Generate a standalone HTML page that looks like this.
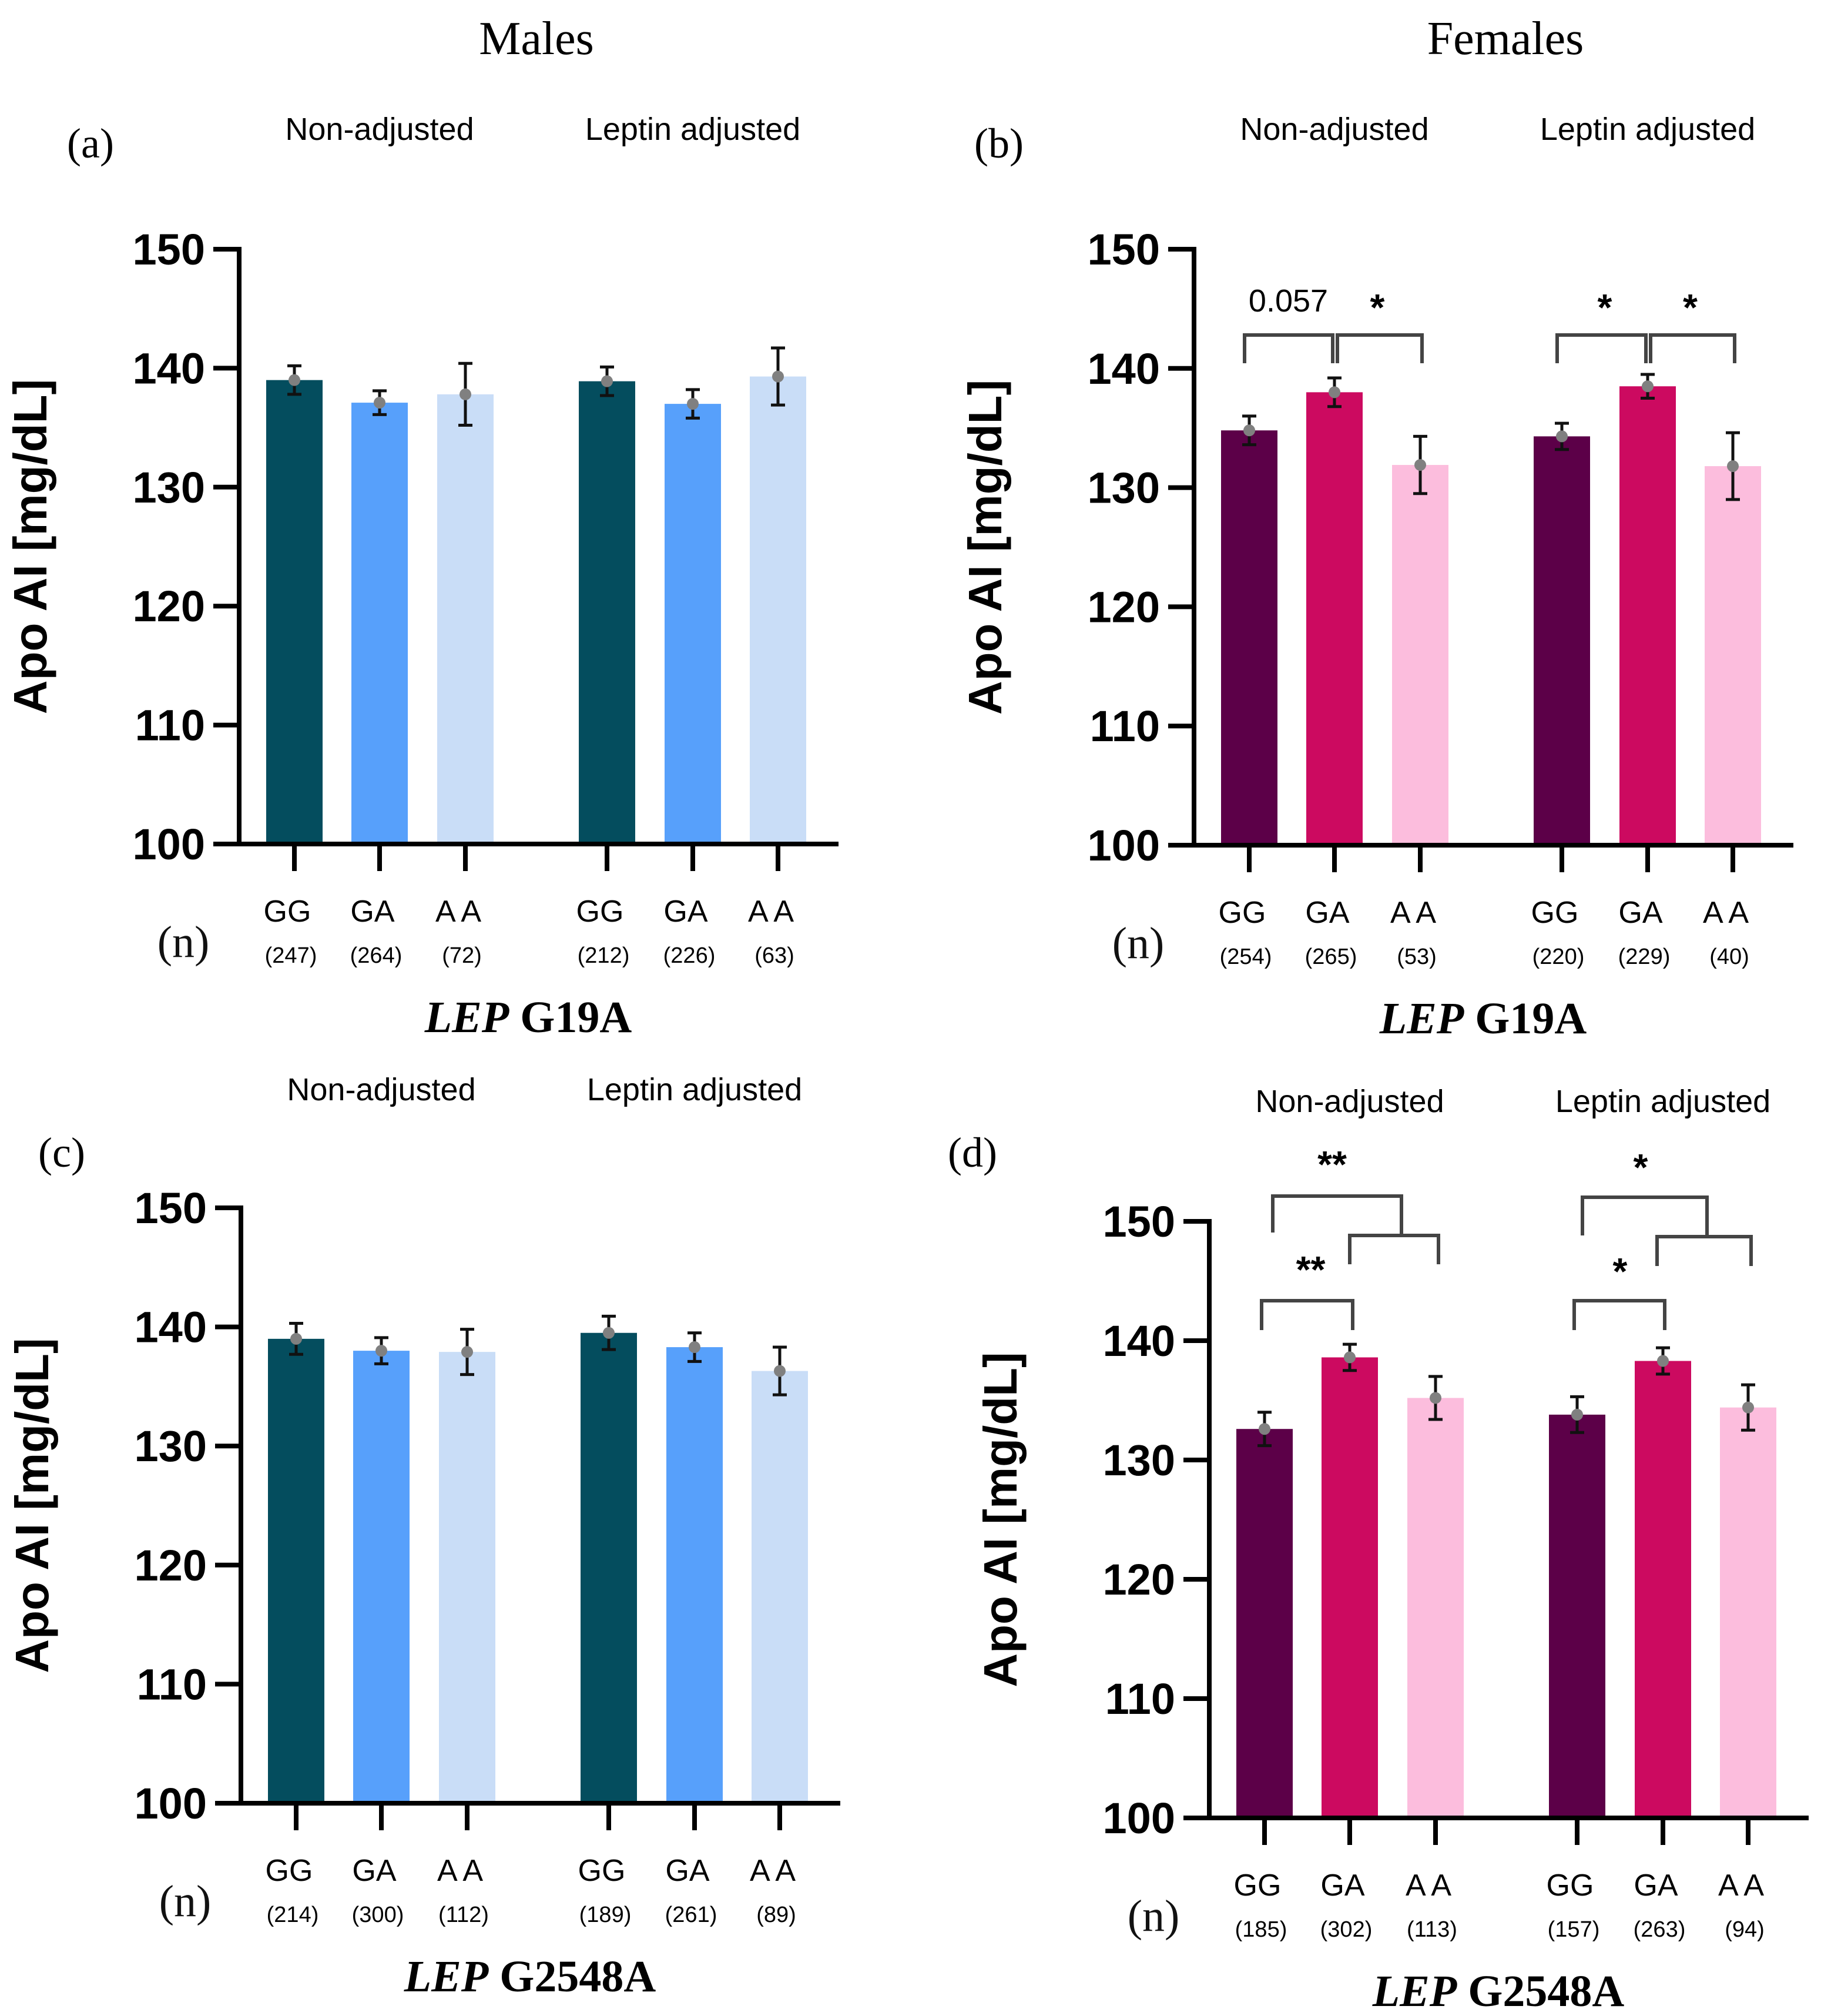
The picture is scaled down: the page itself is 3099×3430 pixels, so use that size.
<!DOCTYPE html>
<html><head><meta charset="utf-8"><style>
html,body{margin:0;padding:0;background:#fff;}
svg{display:block;}
.sans{font-family:"Liberation Sans",Arial,sans-serif;}
.serif{font-family:"Liberation Serif","Times New Roman",serif;}
</style></head><body>
<svg id="fig" width="3099" height="3430" viewBox="0 0 3099 3430" xmlns="http://www.w3.org/2000/svg"></svg>
<script>
// ---- data ----
const genotypes = ["GG","GA","A A","GG","GA","A A"];
const tickValues = [100,110,120,130,140,150];
const meansA = [139.0,137.1,137.8,138.9,137.0,139.3];
const errA   = [1.2,1.0,2.6,1.2,1.2,2.4];
const countsA = ["(247)","(264)","(72)","(212)","(226)","(63)"];
const meansB = [134.8,138.0,131.9,134.3,138.5,131.8];
const errB   = [1.2,1.2,2.4,1.1,1.0,2.8];
const countsB = ["(254)","(265)","(53)","(220)","(229)","(40)"];
const meansC = [139.0,138.0,137.9,139.5,138.3,136.3];
const errC   = [1.3,1.1,1.9,1.4,1.2,2.0];
const countsC = ["(214)","(300)","(112)","(189)","(261)","(89)"];
const meansD = [132.6,138.6,135.2,133.8,138.3,134.4];
const errD   = [1.4,1.1,1.8,1.5,1.1,1.9];
const countsD = ["(185)","(302)","(113)","(157)","(263)","(94)"];

const NS="http://www.w3.org/2000/svg";
const svg=document.getElementById('fig');
function el(tag,attrs,parent,text){
  const e=document.createElementNS(NS,tag);
  for(const k in attrs) e.setAttribute(k,attrs[k]);
  if(text!==undefined) e.textContent=text;
  (parent||svg).appendChild(e);
  return e;
}
const maleCols=["#044d5e","#57a0fb","#c9ddf7","#044d5e","#57a0fb","#c9ddf7"];
const femCols=["#5c0048","#cc0a60","#fcbddd","#5c0048","#cc0a60","#fcbddd"];
const offsets=[94,239,385,626,772,917];

function panel(id,ax,y150,y100,means,errs,counts,cols,letter,letterXY,subY,title){
  const g=el('g',{},svg);
  
  
  const ys=v=>y100-(v-100)/50*(y100-y150);
  const xs=i=>ax+offsets[i];
  for(let i=0;i<means.length;i++){
    const r=el('rect',{x:xs(i)-48,y:ys(means[i]),width:96,height:y100-ys(means[i]),fill:cols[i]},g);
    
    
  }
  for(let i=0;i<means.length;i++){
    const eg=el('g',{stroke:"#111","stroke-width":5},g);
    
    
    const yt=ys(means[i]+errs[i]), yb=ys(means[i]-errs[i]), x=xs(i);
    el('line',{x1:x,x2:x,y1:yt,y2:yb},eg);
    el('line',{x1:x-12,x2:x+12,y1:yt,y2:yt},eg);
    el('line',{x1:x-12,x2:x+12,y1:yb,y2:yb},eg);
    const d=el('circle',{cx:x,cy:ys(means[i]),r:10,fill:"#808080",stroke:"none"},g);
    
    
  }
  const axg=el('g',{stroke:"#000","stroke-width":8,fill:"none"},g);
  
  
  el('line',{x1:ax,x2:ax,y1:y150-4,y2:y100+4},axg);
  el('line',{x1:ax-44,x2:ax+1020,y1:y100,y2:y100},axg);
  for(const t of tickValues){
    el('line',{x1:ax-44,x2:ax,y1:ys(t),y2:ys(t)},axg);
    const tl=el('text',{x:ax-58,y:ys(t)+26,'text-anchor':'end','font-size':74,'font-weight':'bold',class:'sans'},g,String(t));
    
    
  }
  for(let i=0;i<6;i++){
    el('line',{x1:xs(i),x2:xs(i),y1:y100,y2:y100+46},axg);
    const gl=el('text',{x:xs(i)-12,y:y100+132,'text-anchor':'middle','font-size':52,class:'sans'},g,genotypes[i]);
    
    
    const cl=el('text',{x:xs(i)-6,y:y100+202,'text-anchor':'middle','font-size':38,class:'sans'},g,counts[i]);
    
    
  }
  const yt=el('text',{transform:`translate(${ax-328},${(y150+y100)/2}) rotate(-90)`,'text-anchor':'middle','font-size':80,'font-weight':'bold',class:'sans'},g,'Apo AI [mg/dL]');
  
  
  const n=el('text',{x:ax-95,y:y100+192,'text-anchor':'middle','font-size':76,fill:'#111',class:'serif'},g,'(n)');
  
  
  const tt=el('text',{x:ax+492,y:y100+320,'text-anchor':'middle','font-size':76,'font-weight':'bold',class:'serif'},g);
  
  
  el('tspan',{'font-style':'italic'},tt,'LEP');
  el('tspan',{},tt,' '+title);
  const lt=el('text',{x:letterXY[0],y:letterXY[1],'text-anchor':'middle','font-size':72,class:'serif'},g,'('+letter+')');
  
  
  const s1=el('text',{x:xs(1),y:subY,'text-anchor':'middle','font-size':54,class:'sans'},g,'Non-adjusted');
  
  
  const s2=el('text',{x:xs(4),y:subY,'text-anchor':'middle','font-size':54,class:'sans'},g,'Leptin adjusted');
  
  
  return {xs,ys,g};
}

function bracket(g,x1,x2,yTop,yB1,yB2,name){
  const p=el('path',{d:`M${x1},${yB1} V${yTop} H${x2} V${yB2}`,fill:'none',stroke:'#444','stroke-width':6},g);
  
  
}
function sig(g,x,y,t,name,size){
  const s=el('text',{x:x,y:y,'text-anchor':'middle','font-size':size||60,'font-weight':t==='0.057'?'normal':'bold',class:'sans'},g,t);
  
  
}

const h1=el('text',{x:913,y:92,'text-anchor':'middle','font-size':80,class:'serif'},svg,'Males');


const h2=el('text',{x:2562,y:92,'text-anchor':'middle','font-size':80,class:'serif'},svg,'Females');



const pA=panel('a',407,424,1436,meansA,errA,countsA,maleCols,'a',[154,268],238,'G19A');
const pB=panel('b',2032,424,1438,meansB,errB,countsB,femCols,'b',[1700,268],238,'G19A');
const pC=panel('c',410,2055,3068,meansC,errC,countsC,maleCols,'c',[105,1985],1872,'G2548A');
const pD=panel('d',2058,2078,3093,meansD,errD,countsD,femCols,'d',[1655,1985],1892,'G2548A');

{const x=pB.xs,g=pB.g;
 bracket(g,x(0)-8,x(1)-3,570,618,618,'sig-bracket-b-gg-ga');
 bracket(g,x(1)+5,x(2)+3,570,618,618,'sig-bracket-b-ga-aa');
 sig(g,(x(0)+x(1))/2-6,530,'0.057','p-value-b-gg-ga',54);
 sig(g,(x(1)+x(2))/2,545,'*','sig-star-b-ga-aa',64);
 bracket(g,x(3)-8,x(4)-3,570,618,618,'sig-bracket-b-adj-gg-ga');
 bracket(g,x(4)+5,x(5)+3,570,618,618,'sig-bracket-b-adj-ga-aa');
 sig(g,(x(3)+x(4))/2,545,'*','sig-star-b-adj-gg-ga',64);
 sig(g,(x(4)+x(5))/2,545,'*','sig-star-b-adj-ga-aa',64);}
{const x=pD.xs,g=pD.g;
 bracket(g,x(0)-5,x(1)+5,2213,2263,2263,'sig-bracket-d-gg-ga');
 sig(g,(x(0)+x(1))/2+6,2182,'**','sig-star-d-gg-ga',64);
 bracket(g,x(1),x(2)+5,2102,2151,2151,'sig-bracket-d-ga-aa');
 bracket(g,x(0)+14,x(1)+88,2035,2097,2102,'sig-bracket-d-gg-vs-ga-aa');
 sig(g,x(1)-30,2003,'**','sig-star-d-gg-vs-ga-aa',64);
 bracket(g,x(3)-5,x(4)+3,2213,2263,2263,'sig-bracket-d-adj-gg-ga');
 sig(g,(x(3)+x(4))/2,2185,'*','sig-star-d-adj-gg-ga',64);
 bracket(g,x(4)-10,x(5)+5,2104,2154,2154,'sig-bracket-d-adj-ga-aa');
 bracket(g,x(3)+9,x(4)+75,2037,2102,2104,'sig-bracket-d-adj-gg-vs-ga-aa');
 sig(g,x(4)-38,2008,'*','sig-star-d-adj-gg-vs-ga-aa',64);}
</script>
</body></html>
